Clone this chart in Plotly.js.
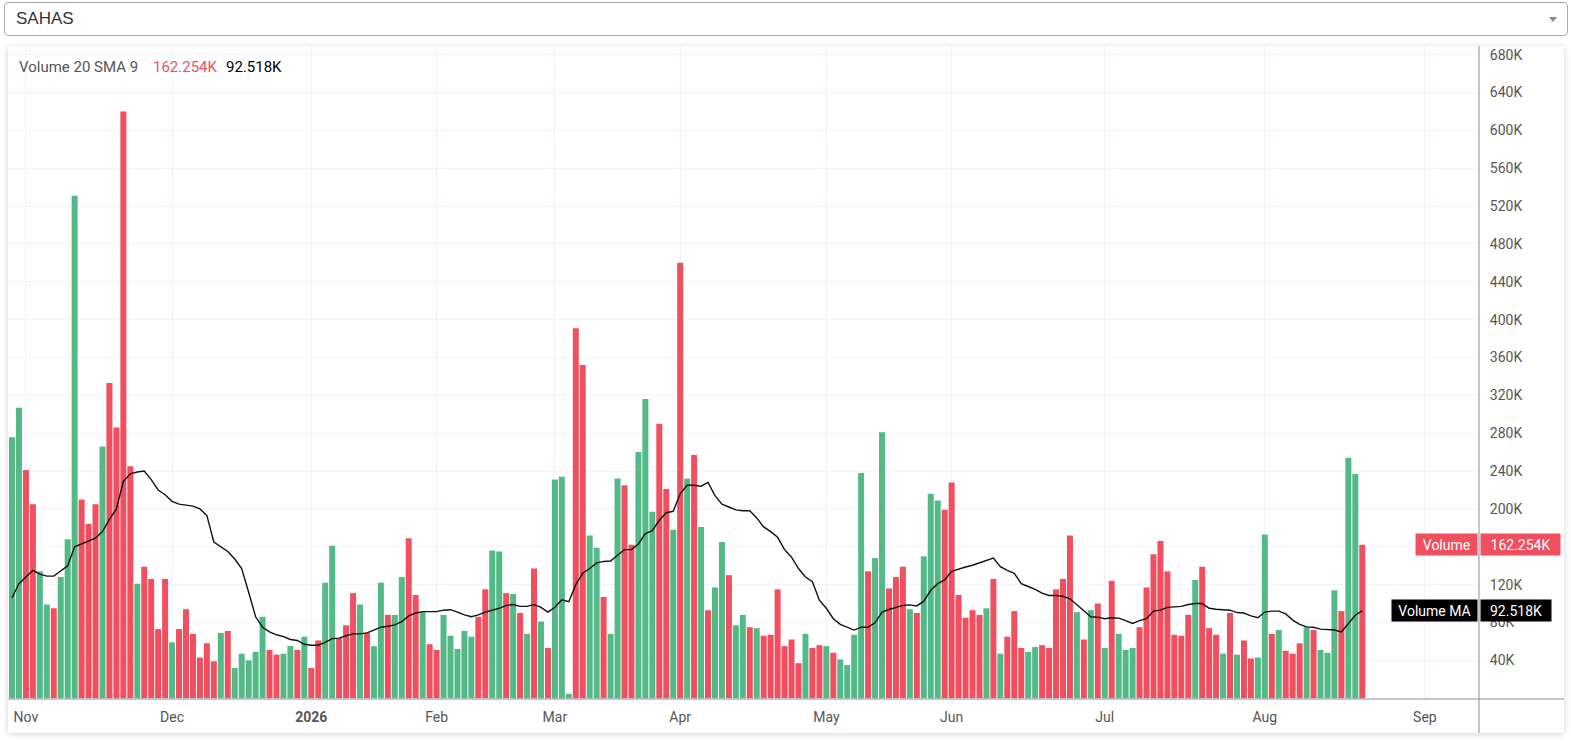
<!DOCTYPE html>
<html>
<head>
<meta charset="utf-8">
<script src="https://cdn.plot.ly/plotly-3.0.1.min.js"></script>
<style>
  html, body { margin:0; padding:0; background:#fff; width:1571px; height:741px; overflow:hidden; }
  #sel { position:absolute; left:4px; top:2px; width:1564px; height:34px; box-sizing:border-box;
         border:1px solid #a9a9a9; border-radius:4px; background:#fff;
         font-family:"Liberation Sans", Arial, sans-serif; font-size:17px; color:#333;
         line-height:32px; padding-left:11px; }
  #caret { position:absolute; right:10px; top:14px; width:0; height:0;
           border-left:4px solid transparent; border-right:4px solid transparent; border-top:5px solid #888; }
  #frame { position:absolute; left:8px; top:46px; width:1556px; height:687px; background:#fff;
           box-shadow:0 1px 6px rgba(0,0,0,0.18); }
  #chart { position:absolute; left:0; top:0; width:1571px; height:741px; }
</style>
</head>
<body>
<div id="sel">SAHAS<div id="caret"></div></div>
<div id="frame"></div>
<div id="chart"></div>
<script>
// ---- data (volume in thousands) ----
const volume = [275.6,307,241,205,134,99,95,128,168,531,210,184,205,266,333,286,620,245,121,139,
126,73,126,59,73,94,68,43,58,39,69,71,32,47,40,49,86,51,46,47,
55,51,65,32,61,122,161,63.5,77,111,99,69,55,122,88,88,128,169,109,91,
57,51,88,66,52,71,65,86,115,156,155,111,110,90,68,137,81,53,231,234,
4.6,391,352,172,159,107,68,232,225,162,260,316,197,290,221,178,460,232,257,181,
93,117,165,130,77,88,75,74,66,67,115,55,62,37,68,53,56,55,48,41,
35,67,238,134,148,281,116,128,139,94,90,150,216,209,199,228,109,85,93,88,
95,126,47,65,92,53,49,54,56,53,115,126,172,91,62,93,100,53,124,68,
51,53,75,117,152,166,134,67,66,88,125,139,74,67,47,90,46,61,42,43,
173,68,72,50,47,58,75,72,51,48,114,92,254,237,162.254];

// 1 = up day (green), 0 = down day (red)
const upDay = [1,1,0,0,1,1,0,1,1,1,0,0,0,1,0,0,0,0,1,0,
0,0,0,1,0,0,0,0,0,0,1,0,1,1,1,1,1,0,0,1,
1,0,1,0,0,1,1,0,0,0,1,0,1,1,0,1,1,0,0,1,
0,0,1,1,1,1,1,0,0,1,1,0,1,0,1,0,1,0,1,1,
1,0,0,1,1,0,1,1,0,0,1,1,1,0,0,1,0,1,0,1,
0,1,1,0,1,1,0,1,0,0,0,0,0,0,1,0,0,1,0,1,
1,1,1,0,1,1,0,0,0,1,0,1,1,1,0,0,0,0,0,0,
1,0,1,0,0,0,1,1,0,0,0,0,0,1,0,1,0,1,0,1,
1,1,0,0,0,0,0,0,0,0,1,0,0,0,1,0,1,0,0,1,
1,0,1,0,0,0,1,0,1,1,1,0,1,1,0];

// Volume MA (thousands)
const volumeMA = [106,121,128,135,131,129,129,135,140,160,163,166,169,176,189,200,229,237,239,240,
231,220,215,208,205,204,203,200,193,165,160,155,147,137,112,86,75,70,67,65,
62,61,57,56,56,59,63,63.5,66,68,68,69,72,75,76,77.5,81,87,90,91.5,
91.5,91.5,93,93.5,91,88,86,88,91,93,95,98,99,97,97,99,96,91,96,104,
102,120,132,137,143,144.5,145,151,157,157,163,174,177,188,196,197.5,216,225,225,224,
228,214,205,202,199,198,198,190.5,181,176,170,157,149,137,128,123,103.5,95,84,78,
75,72,75,75,79.6,91,93.7,96,98,98.6,97.5,102.5,114,121,125,134,136.5,138.6,140.5,143,
145.5,148,139,135,132,121,118,115,111,108.5,108.5,107.7,105,99,93,86,85.6,84,85,84.6,
82,79,82,84,92,93,96,96.5,97,99,100,100,95,94,93.5,93,90.5,90,87,85,
91,92,92,89,82.5,78,75.4,75,73,72.6,72,70,79,87.7,92.518];

// month ticks (bar index of first trading day of month)
const monthTickIdx = [2,23,43,61,78,96,117,135,157,180,203];
const monthLabels = ['Nov','Dec','<b>2026</b>','Feb','Mar','Apr','May','Jun','Jul','Aug','Sep'];

// price-scale ticks; 160K is covered by the "Volume" label in the reference
const yTickVals = [40,80,120,160,200,240,280,320,360,400,440,480,520,560,600,640,680];
const yTickText = ['40K','80K','120K','','200K','240K','280K','320K','360K','400K','440K','480K','520K','560K','600K','640K','680K'];

// ---- styles ----
const GREEN = '#53b987', RED = '#ef4f5f';
const FONT = 'Roboto, "Noto Sans", sans-serif';
const idx = volume.map((_, i) => i);
const barColors = upDay.map(u => u ? GREEN : RED);

const lastVol = volume[volume.length - 1];
const lastMA = volumeMA[volumeMA.length - 1];
const fmt = v => v.toFixed(3) + 'K';

const traces = [
  { type:'bar', x: idx, y: volume, marker:{ color: barColors, line:{width:0} }, hoverinfo:'skip' },
  { type:'scatter', mode:'lines', x: idx, y: volumeMA, line:{ color:'#111', width:1.4 }, hoverinfo:'skip' }
];

const layout = {
  width:1571, height:741,
  margin:{ l:8, r:92, t:46, b:42, pad:0 },
  paper_bgcolor:'rgba(0,0,0,0)', plot_bgcolor:'rgba(0,0,0,0)',
  showlegend:false, bargap:0.14,
  font:{ family: FONT, size:14, color:'#555' },
  xaxis:{
    range:[-0.575, 210.77], tickmode:'array', tickvals: monthTickIdx, ticktext: monthLabels,
    showgrid:true, gridcolor:'#f0f3fa', gridwidth:1, zeroline:false, showline:false,
    ticks:'outside', ticklen:5, tickcolor:'rgba(0,0,0,0)',
    tickfont:{ family: FONT, size:14, color:'#555' }, fixedrange:true
  },
  yaxis:{
    side:'right', range:[-0.85, 689.1], tickmode:'array', tickvals: yTickVals, ticktext: yTickText,
    showgrid:true, gridcolor:'#f0f3fa', gridwidth:1, zeroline:false, showline:false,
    ticks:'outside', ticklen:7, tickcolor:'rgba(0,0,0,0)',
    tickfont:{ family: FONT, size:14, color:'#555' }, fixedrange:true
  },
  shapes:[
    { type:'line', xref:'paper', yref:'paper', x0:1, x1:1, y0:1, y1:-0.052, line:{ color:'#8a8d96', width:1 } },
    { type:'line', xref:'paper', yref:'paper', x0:0, x1:1.0578, y0:0, y1:0, line:{ color:'#8a8d96', width:1 } }
  ],
  annotations:[
    { xref:'paper', yref:'paper', x:0, xshift:9, y:0.9686, xanchor:'left', yanchor:'middle', showarrow:false,
      text:'Volume 20 SMA 9', font:{ family: FONT, size:15, color:'#555' } },
    { xref:'paper', yref:'paper', x:0, xshift:143, y:0.9686, xanchor:'left', yanchor:'middle', showarrow:false,
      text: fmt(lastVol), font:{ family: FONT, size:15, color: RED } },
    { xref:'paper', yref:'paper', x:0, xshift:216, y:0.9686, xanchor:'left', yanchor:'middle', showarrow:false,
      text: fmt(lastMA), font:{ family: FONT, size:15, color:'#000' } },

    { xref:'paper', yref:'y', x:1, xshift:-1, y:lastVol, xanchor:'right', yanchor:'middle', showarrow:false,
      text:'Volume', bgcolor: RED, borderpad:2, width:57, height:17, align:'center',
      font:{ family: FONT, size:14, color:'#fff' } },
    { xref:'paper', yref:'y', x:1, xshift:1, y:lastVol, xanchor:'left', yanchor:'middle', showarrow:false,
      text: fmt(lastVol), bgcolor: RED, borderpad:2, width:75, height:17, align:'center',
      font:{ family: FONT, size:14, color:'#fff' } },
    { xref:'paper', yref:'y', x:1, xshift:-1, y:lastMA, xanchor:'right', yanchor:'middle', showarrow:false,
      text:'Volume MA', bgcolor:'#000', borderpad:2, width:81, height:17, align:'center',
      font:{ family: FONT, size:14, color:'#fff' } },
    { xref:'paper', yref:'y', x:1, xshift:1, y:lastMA, xanchor:'left', yanchor:'middle', showarrow:false,
      text: fmt(lastMA), bgcolor:'#000', borderpad:2, width:66, height:17, align:'center',
      font:{ family: FONT, size:14, color:'#fff' } }
  ]
};

Plotly.newPlot('chart', traces, layout, { staticPlot:true, displayModeBar:false });
</script>
</body>
</html>
